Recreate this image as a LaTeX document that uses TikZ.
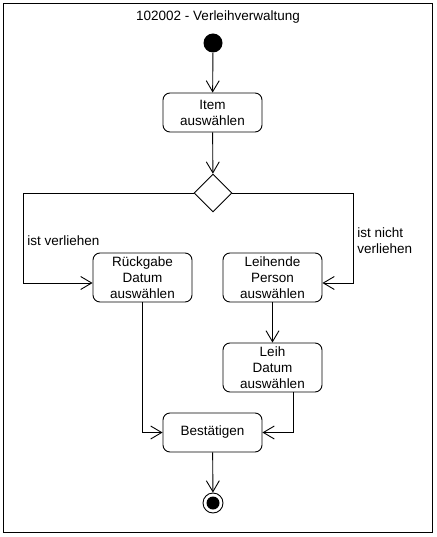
\documentclass[tikz,border=0pt]{standalone}
\usepackage{fontspec}
\setmainfont{Liberation Sans}
\usetikzlibrary{arrows.meta,shapes.geometric,calc}
\begin{document}
\begin{tikzpicture}[x=1pt,y=-1pt,
  font=\fontsize{13.5}{16}\selectfont,
  line width=0.9pt,
  act/.style={draw,rounded corners=7pt,minimum width=99pt,inner sep=0pt,align=center},
  arr/.style={-{Straight Barb[length=11pt,width=13pt]}},
  lbl/.style={anchor=west,align=left,inner sep=0pt}]
\useasboundingbox (0,0) rectangle (436,537);
\node[draw,minimum width=429pt,minimum height=529pt,inner sep=0pt,anchor=north west] (frame) at (3,3) {};
\node (title) at (218,17) {102002 - Verleihverwaltung};
\node[circle,fill,minimum size=19pt,inner sep=0pt] (start) at (213,43) {};
\node[act,minimum height=39pt] (item) at (212.5,112.5) {Item\\auswählen};
\node[diamond,draw,fill=white,minimum width=38pt,minimum height=38pt,inner sep=0pt] (dec) at (213,193) {};
\node[act,minimum height=49pt] (rueck) at (142.5,277.5) {Rückgabe\\Datum\\auswählen};
\node[act,minimum height=49pt] (leihp) at (272.5,277.5) {Leihende\\Person\\auswählen};
\node[act,minimum height=49pt] (leihd) at (272.5,367.5) {Leih\\Datum\\auswählen};
\node[act,minimum height=39pt] (best) at (212.5,432.5) {Bestätigen};
\node[circle,draw,minimum size=20pt,inner sep=0pt] (end) at (213,503) {};
\node[circle,fill,minimum size=13pt,inner sep=0pt] (endin) at (end.center) {};
\coordinate (lc) at (23,283);
\coordinate (rc) at (353,283);
\coordinate (lb) at (293,392);
\draw[arr] (start) -- (item);
\draw[arr] (item) -- (dec);
\draw[arr] (dec.west) -| (lc) -- (rueck.west |- lc);
\draw[arr] (dec.east) -| (rc) -- (leihp.east |- rc);
\draw[arr] (leihp) -- (leihd);
\draw[arr] (rueck.south) |- (best.west);
\draw[arr] (lb) |- (best.east);
\draw[arr] (best) -- (end);
\node[lbl] (l1) at (27,241) {ist verliehen};
\node[lbl] (l2) at (357,241) {ist nicht\\verliehen};
\end{tikzpicture}
\end{document}
